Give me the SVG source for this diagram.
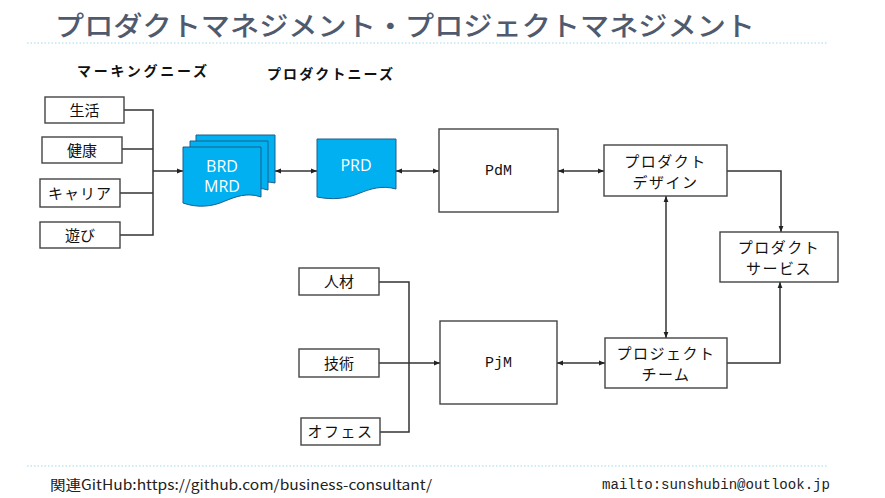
<svg xmlns="http://www.w3.org/2000/svg" width="885" height="498" viewBox="0 0 885 498">
<defs>
<marker id="ah" viewBox="0 0 10 10" refX="10" refY="5" markerWidth="6" markerHeight="6" orient="auto-start-reverse" markerUnits="userSpaceOnUse">
<path d="M0,1 L10,5 L0,9 Z" fill="#222"/>
</marker>
<style>
.box{fill:#fff;stroke:#444;stroke-width:1.4}
.doc{fill:#00b0f0;stroke:#1d5f8a;stroke-width:1}
.ln{fill:none;stroke:#333;stroke-width:1.5}
.jp{font-family:"Noto Sans CJK JP","Noto Sans",sans-serif;font-size:15px;fill:#111;text-anchor:middle}
.dt{font-family:"Open Sans","Lato",sans-serif;font-size:16px;fill:#fff;text-anchor:middle}
.mono{font-family:"Liberation Mono","DejaVu Sans Mono",monospace;font-size:15px;fill:#111;text-anchor:middle}
.hd{font-family:"Noto Sans CJK JP",sans-serif;font-size:14px;font-weight:bold;fill:#111}
.dot{stroke:#9dd9ea;stroke-width:1;stroke-dasharray:1.5 2}
</style>
</defs>
<rect width="885" height="498" fill="#fff"/>
<text x="55" y="36" font-family="Noto Sans CJK JP,sans-serif" font-size="27" font-weight="500" fill="#505a6e" textLength="700" lengthAdjust="spacingAndGlyphs">プロダクトマネジメント・プロジェクトマネジメント</text>
<line class="dot" x1="27" y1="43" x2="828" y2="43"/>
<line class="dot" x1="27" y1="466" x2="828" y2="466"/>
<text x="50" y="490" font-family="Noto Sans CJK JP,sans-serif" font-size="14" fill="#222" textLength="382" lengthAdjust="spacingAndGlyphs">関連GitHub:https://github.com/business-consultant/</text>
<text x="602" y="489" font-family="Liberation Mono,monospace" font-size="14" fill="#222" textLength="228" lengthAdjust="spacingAndGlyphs">mailto:sunshubin@outlook.jp</text>
<text class="hd" x="77" y="76" textLength="130">マーキングニーズ</text>
<text class="hd" x="267" y="79" textLength="126">プロダクトニーズ</text>
<g id="connectors">
<polyline class="ln" points="124,110 153,110 153,235 120,235"/>
<line class="ln" x1="122" y1="149" x2="153" y2="149"/>
<line class="ln" x1="120" y1="193" x2="153" y2="193"/>
<line class="ln" x1="153" y1="171" x2="183" y2="171" marker-end="url(#ah)"/>
<line class="ln" x1="275" y1="171" x2="317" y2="171" marker-start="url(#ah)" marker-end="url(#ah)"/>
<line class="ln" x1="396" y1="171" x2="439" y2="171" marker-start="url(#ah)" marker-end="url(#ah)"/>
<line class="ln" x1="558" y1="171" x2="604" y2="171" marker-start="url(#ah)" marker-end="url(#ah)"/>
<polyline class="ln" points="727,171 781,171 781,232" marker-end="url(#ah)"/>
<line class="ln" x1="666" y1="196" x2="666" y2="338" marker-start="url(#ah)" marker-end="url(#ah)"/>
<polyline class="ln" points="727,363 780,363 780,282" marker-end="url(#ah)"/>
<line class="ln" x1="557" y1="363" x2="605" y2="363" marker-start="url(#ah)" marker-end="url(#ah)"/>
<polyline class="ln" points="379,282 409,282 409,432 380,432"/>
<line class="ln" x1="379" y1="363" x2="440" y2="363" marker-end="url(#ah)"/>
</g>
<g id="n-seikatsu"><rect class="box" x="45" y="97" width="79" height="26"/><text class="jp" x="84.5" y="115.5">生活</text></g>
<g id="n-kenko"><rect class="box" x="42" y="137" width="80" height="26"/><text class="jp" x="82" y="155.5">健康</text></g>
<g id="n-career"><rect class="box" x="40" y="179" width="80" height="28"/><text class="jp" x="80" y="198.5" letter-spacing="1">キャリア</text></g>
<g id="n-asobi"><rect class="box" x="40" y="222" width="80" height="26"/><text class="jp" x="80" y="240.5">遊び</text></g>
<g id="n-brd">
<path class="doc" d="M196,135 H275 V183 C262,180 250,184 242,187 C230,191 215,191 196,188 Z"/>
<path class="doc" d="M190,141 H268 V190 C255,186 243,190 235,194 C223,198 208,198 190,195 Z"/>
<path class="doc" d="M183,147 H261 V197 C247,192 235,197 225,201 C212,207 197,208 183,203 Z"/>
<text class="dt" x="222" y="172">BRD</text>
<text class="dt" x="222" y="192">MRD</text>
</g>
<g id="n-prd">
<path class="doc" d="M317,139 H396 V189 C382,185 370,189 360,193 C346,199 332,200 317,197 Z"/>
<text class="dt" x="356" y="171">PRD</text>
</g>
<g id="n-pdm"><rect class="box" x="439" y="129" width="119" height="83"/><text class="mono" x="498.5" y="175">PdM</text></g>
<g id="n-pjm"><rect class="box" x="440" y="321" width="117" height="83"/><text class="mono" x="498.5" y="367">PjM</text></g>
<g id="n-pdesign"><rect class="box" x="604" y="145" width="123" height="51"/><text class="jp" x="665.5" y="167" letter-spacing="1.5">プロダクト</text><text class="jp" x="665.5" y="188" letter-spacing="1.5">デザイン</text></g>
<g id="n-pservice"><rect class="box" x="720" y="232" width="118" height="50"/><text class="jp" x="779" y="253" letter-spacing="1.5">プロダクト</text><text class="jp" x="779" y="274" letter-spacing="1.5">サービス</text></g>
<g id="n-pteam"><rect class="box" x="605" y="338" width="122" height="50"/><text class="jp" x="666" y="359" letter-spacing="1.5">プロジェクト</text><text class="jp" x="666" y="380" letter-spacing="1.5">チーム</text></g>
<g id="n-jinzai"><rect class="box" x="299" y="268" width="80" height="27"/><text class="jp" x="339" y="287">人材</text></g>
<g id="n-gijutsu"><rect class="box" x="299" y="349" width="80" height="28"/><text class="jp" x="339" y="368.5">技術</text></g>
<g id="n-office"><rect class="box" x="301" y="418" width="79" height="27"/><text class="jp" x="340.5" y="437" letter-spacing="1.5">オフェス</text></g>
</svg>
